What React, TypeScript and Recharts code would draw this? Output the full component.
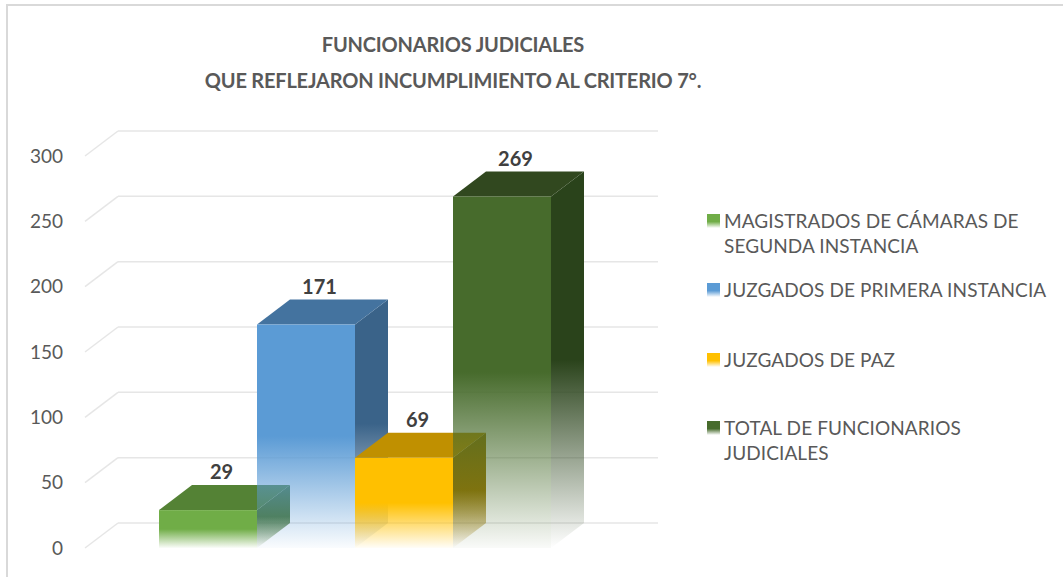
import React from 'react';
import { BarChart, Bar, XAxis, YAxis, CartesianGrid, Legend, LabelList } from 'recharts';

// ---- data ----
const categories = ['Funcionarios judiciales'];
const seriesKeys = ['mag', 'jpi', 'paz', 'total'];
const seriesNames = [
  'MAGISTRADOS DE CÁMARAS DE SEGUNDA INSTANCIA',
  'JUZGADOS DE PRIMERA INSTANCIA',
  'JUZGADOS DE PAZ',
  'TOTAL DE FUNCIONARIOS JUDICIALES',
];
const seriesValues = [29, 171, 69, 269];
const yTicks = [0, 50, 100, 150, 200, 250, 300];
const titleLines = ['FUNCIONARIOS JUDICIALES', 'QUE REFLEJARON INCUMPLIMIENTO AL CRITERIO 7°.'];

// ---- styles ----
const FONT = 'Lato, "Open Sans", sans-serif';
const palette = [
  { front: '#70ad47', top: '#548235', side: '#4a7530' },
  { front: '#5b9bd5', top: '#44739f', side: '#3a6389' },
  { front: '#ffc000', top: '#c09000', side: '#9c7700' },
  { front: '#476b2c', top: '#31481f', side: '#2a431b' },
];
const DX = 33;
const DY = 25;

const row: Record<string, string | number> = { category: categories[0] };
seriesKeys.forEach((k, i) => {
  row[k] = seriesValues[i];
});
const data = [row];

function makeShape(i: number) {
  const c = palette[i];
  return (props: any) => {
    const { x, y, width: w, height: h } = props;
    if (w == null || h == null) return <g />;
    const fid = `front-grad-${i}`;
    const sid = `side-grad-${i}`;
    const side = `${x + w},${y} ${x + w + DX},${y - DY} ${x + w + DX},${y + h - DY} ${x + w},${y + h}`;
    const top = `${x},${y} ${x + DX},${y - DY} ${x + w + DX},${y - DY} ${x + w},${y}`;
    return (
      <g>
        <defs>
          <linearGradient id={fid} x1="0" y1="0" x2="0" y2="1">
            <stop offset="0" stopColor={c.front} stopOpacity={1} />
            <stop offset="0.5" stopColor={c.front} stopOpacity={1} />
            <stop offset="1" stopColor={c.front} stopOpacity={0.03} />
          </linearGradient>
          <linearGradient id={sid} x1="0" y1="0" x2="0" y2="1">
            <stop offset="0" stopColor={c.side} stopOpacity={1} />
            <stop offset="0.5" stopColor={c.side} stopOpacity={1} />
            <stop offset="1" stopColor={c.side} stopOpacity={0.0} />
          </linearGradient>
        </defs>
        <polygon points={side} fill={`url(#${sid})`} />
        <polygon points={top} fill={c.top} />
        <rect x={x} y={y} width={w} height={h} fill={`url(#${fid})`} />
      </g>
    );
  };
}

const renderLabel = (props: any) => {
  const { x, y, width, value } = props;
  return (
    <text
      x={x + width / 2 + DX / 2 - 3}
      y={y - DY - 6}
      textAnchor="middle"
      fill="#404040"
      fontFamily={FONT}
      fontWeight={700}
      fontSize={20}
    >
      {value}
    </text>
  );
};

const renderGridLine = (props: any) => {
  const { x1, x2, y1, index } = props;
  return (
    <g key={`gl-${index}`}>
      <line x1={x1} y1={y1} x2={x1 + DX} y2={y1 - DY} stroke="#e6e6e6" strokeWidth={1.5} />
      <line x1={x1 + DX} y1={y1 - DY} x2={x2 + DX} y2={y1 - DY} stroke="#e6e6e6" strokeWidth={1.5} />
    </g>
  );
};

const legendTops = [208, 277, 347, 415];

const renderLegend = () => (
  <div style={{ position: 'relative', width: 356, height: 280, fontFamily: FONT }}>
    {seriesNames.map((name, i) => (
      <div key={name} style={{ position: 'absolute', left: 0, top: legendTops[i] - 200, width: 356 }}>
        <div
          style={{
            position: 'absolute',
            left: 0,
            top: 5.5,
            width: 13,
            height: 14,
            background: `linear-gradient(to bottom, ${palette[i].front} 0%, ${palette[i].front} 55%, rgba(255,255,255,0.4) 100%)`,
          }}
        />
        <div
          style={{
            marginLeft: 17,
            fontSize: 19,
            lineHeight: '25px',
            color: '#595959',
            width: 332,
            letterSpacing: 0.1,
          }}
        >
          {name}
        </div>
      </div>
    ))}
  </div>
);

export default function App() {
  return (
    <div style={{ position: 'absolute', left: 0, top: 0, width: 1063, height: 577, background: '#fff', overflow: 'hidden' }}>
      <div
        style={{
          position: 'absolute',
          left: 6,
          top: 4,
          width: 1100,
          height: 620,
          border: '2px solid #d9d9d9',
        }}
      />
      <div
        style={{
          position: 'absolute',
          left: 0,
          top: 26,
          width: 906,
          textAlign: 'center',
          fontFamily: FONT,
          fontWeight: 700,
          fontSize: 20,
          letterSpacing: -0.2,
          lineHeight: '36px',
          color: '#595959',
        }}
      >
        {titleLines.map((t) => (
          <div key={t}>{t}</div>
        ))}
      </div>
      <BarChart
        width={1063}
        height={577}
        data={data}
        margin={{ top: 156, right: 438, bottom: 29, left: 0 }}
        barCategoryGap={74}
        barGap={0}
        style={{ position: 'absolute', left: 0, top: 0 }}
      >
        <CartesianGrid vertical={false} horizontal={renderGridLine} />
        <XAxis dataKey="category" hide />
        <YAxis
          width={85}
          domain={[0, 300]}
          ticks={yTicks}
          axisLine={false}
          tickLine={false}
          tickMargin={16}
          interval={0}
          tick={{ fill: '#595959', fontSize: 19, fontFamily: FONT }}
        />
        <Legend
          layout="vertical"
          align="center"
          verticalAlign="middle"
          content={renderLegend}
          wrapperStyle={{ position: 'absolute', left: 707, top: 200, width: 356, height: 280 }}
        />
        {seriesKeys.map((k, i) => (
          <Bar
            key={k}
            dataKey={k}
            name={seriesNames[i]}
            fill={palette[i].front}
            isAnimationActive={false}
            shape={makeShape(i)}
          >
            <LabelList dataKey={k} content={renderLabel} />
          </Bar>
        ))}
      </BarChart>
    </div>
  );
}
